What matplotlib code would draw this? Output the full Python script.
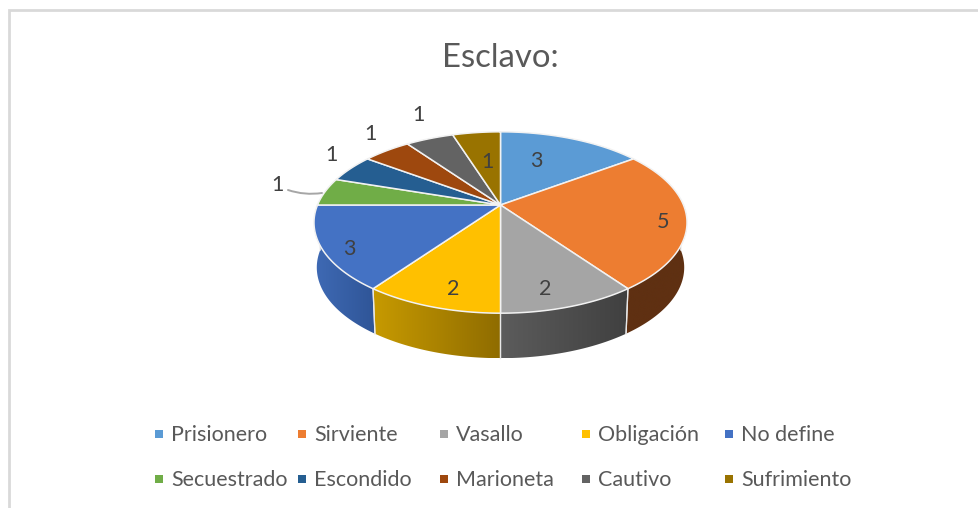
import numpy as np
import matplotlib
matplotlib.use("Agg")
import matplotlib.pyplot as plt
from matplotlib.colors import LinearSegmentedColormap
from matplotlib.patches import Polygon

plt.rcParams['font.family'] = ['Lato', 'DejaVu Sans']

title = "Esclavo:"
categories = ["Prisionero", "Sirviente", "Vasallo", "Obligación", "No define",
              "Secuestrado", "Escondido", "Marioneta", "Cautivo", "Sufrimiento"]
values = [3, 5, 2, 2, 3, 1, 1, 1, 1, 1]

colors = ["#5B9BD5", "#ED7D31", "#A5A5A5", "#FFC000", "#4472C4",
          "#70AD47", "#255E91", "#9E480E", "#636363", "#997300"]
side_left = {1: "#5f3012", 2: "#5c5c5c", 3: "#c79a00", 4: "#3f6ab5"}
side_right = {1: "#5f3012", 2: "#404040", 3: "#8f6c00", 4: "#2f5597"}
label_pos = [(536, 161), (663, 222), (545, 289), (453, 289), (349, 249),
             (277, 185), (331, 155), (370, 134), (418, 115), (487, 162)]
legend_x = [159, 302, 444, 586, 729]
legend_y = [434, 479]

W, H = 979, 508
fig = plt.figure(figsize=(W / 100, H / 100), dpi=100)
ax = fig.add_axes([0, 0, 1, 1])
ax.axis("off")

CX, CY, A, B, K, DEPTH, SHRINK = 500.5, 205, 183, 87.3, 0.193, 45, 0.985


def top(theta):
    t = np.radians(theta)
    w = 1 + K * np.cos(t)
    return np.c_[CX + A * np.sin(t) / w, CY - B * np.cos(t) / w]


def bottom(theta):
    p = top(theta)
    p[:, 0] = CX + (p[:, 0] - CX) * SHRINK
    p[:, 1] += DEPTH
    return p


edges = np.r_[0, np.cumsum(values)] / np.sum(values) * 360

# side walls
for i in side_left:
    a0, a1 = max(edges[i], 90), min(edges[i + 1], 270)
    th = np.linspace(a0, a1, 80)
    poly = np.r_[top(th), bottom(th)[::-1]]
    patch = Polygon(poly, closed=True, fc="none", ec="none", zorder=2)
    ax.add_patch(patch)
    cmap = LinearSegmentedColormap.from_list("s", [side_left[i], side_right[i]])
    x0, x1 = poly[:, 0].min(), poly[:, 0].max()
    y0, y1 = poly[:, 1].min(), poly[:, 1].max()
    im = ax.imshow(np.linspace(0, 1, 256)[None, :], cmap=cmap, aspect="auto",
                   extent=(x0, x1, y1, y0), zorder=2, interpolation="bilinear")
    im.set_clip_path(patch)
    # only the vertical seams between slices are light
    ax.plot(*np.r_[top(th[[0]]), bottom(th[[0]])].T, color="#e8e8e8", lw=0.9, zorder=3)
    ax.plot(*np.r_[top(th[[-1]]), bottom(th[[-1]])].T, color="#e8e8e8", lw=0.9, zorder=3)

# top faces
for i, c in enumerate(colors):
    th = np.linspace(edges[i], edges[i + 1], 80)
    poly = np.r_[[[CX, CY]], top(th)]
    ax.add_patch(Polygon(poly, closed=True, fc=c, ec="#f2f2f2", lw=1.1,
                         joinstyle="miter", zorder=4))

# data labels
for i, v in enumerate(values):
    ax.text(*label_pos[i], str(v), color="#404040", fontsize=15.5,
            ha="center", va="center", zorder=6)

# leader line
ax.annotate("", xy=(322, 193), xytext=(288, 190), zorder=5,
            arrowprops=dict(arrowstyle="-", color="#a6a6a6", lw=1.4,
                            connectionstyle="arc3,rad=0.12",
                            shrinkA=0, shrinkB=0))

# title
ax.text(500, 58, title, color="#595959", fontsize=23.7, ha="center", va="center")

# legend
for k, name in enumerate(categories):
    r, col = divmod(k, 5)
    x, y = legend_x[col], legend_y[r]
    ax.scatter([x], [y], marker="s", s=30, color=colors[k], linewidths=0, zorder=5)
    ax.text(x + 12, y + 1, name, color="#595959", fontsize=15.5, ha="left", va="center")

# chart frame
ax.plot([9.5, 9.5, W], [H, 10, 10], color="#d9d9d9", lw=2, solid_joinstyle="miter")

ax.set_xlim(0, W)
ax.set_ylim(H, 0)
fig.savefig("out.png", dpi=100, facecolor="white")
